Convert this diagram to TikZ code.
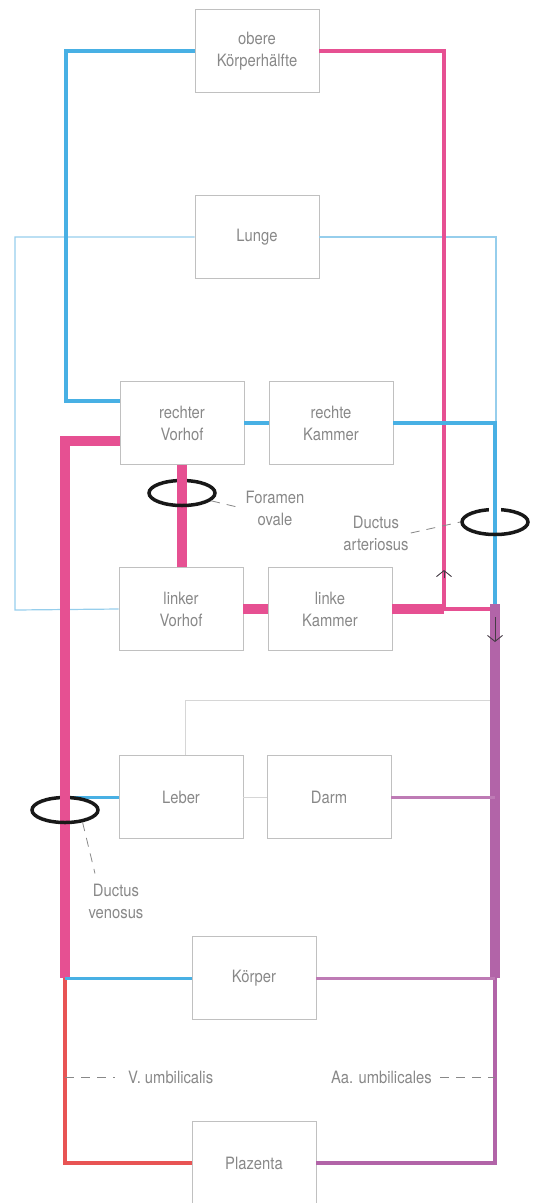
\documentclass[tikz,border=0pt]{standalone}
\usepackage{fontspec}
\setmainfont{TeX Gyre Heros}[FakeStretch=0.87]
\usetikzlibrary{positioning,calc,arrows.meta,shapes.geometric}
\definecolor{vblau}{RGB}{72,176,228}
\definecolor{lblau}{RGB}{150,206,236}
\definecolor{rosa}{RGB}{230,80,146}
\definecolor{lila}{RGB}{178,100,168}
\definecolor{rot}{RGB}{232,84,84}
\definecolor{rahmen}{RGB}{192,192,192}
\definecolor{schrift}{RGB}{136,136,136}
\definecolor{hell}{RGB}{214,214,214}
\definecolor{ringcol}{RGB}{24,24,24}
\definecolor{pfeilcol}{RGB}{70,60,70}
\tikzset{organ/.style={draw=rahmen,line width=0.7pt,minimum width=124pt,minimum height=83pt,inner sep=0pt,align=center,text=schrift,font=\fontsize{17}{22}\selectfont}  }
\tikzset{lbl/.style={text=schrift,align=center,inner sep=0pt,font=\fontsize{17}{22}\selectfont}  }
\tikzset{vene/.style={draw=vblau,line width=4pt},venethin/.style={draw=vblau,line width=3pt},lunv/.style={draw=lblau,line width=1.2pt}}
\tikzset{arterie/.style={draw=rosa,line width=4.5pt},mischbig/.style={draw=rosa,line width=10pt}}
\tikzset{lilabig/.style={draw=lila,line width=10pt},lilamid/.style={draw=lila,line width=4.5pt},lilathin/.style={draw=lila!85,line width=3pt}}
\tikzset{nabelv/.style={draw=rot,line width=4.5pt},grau/.style={draw=hell,line width=0.8pt}}
\tikzset{ring/.style={draw=ringcol,line width=3.5pt,ellipse,minimum width=66pt,minimum height=25pt,inner sep=0pt}  }
\tikzset{leader/.style={draw=schrift,line width=0.8pt,dash pattern=on 9pt off 7pt}  }
\tikzset{flow/.style={draw=pfeilcol,line width=0.9pt,-{Straight Barb[length=6pt,width=15pt,line width=0.9pt]}}  }

\begin{document}
\begin{tikzpicture}[x=1pt,y=-1pt]
	\useasboundingbox (0,0) rectangle (533,1203);
	% Organe
	\node[organ] (ok) at (257,51) {obere\\Körperhälfte};
	\node[organ] (lunge) at (257,237) {Lunge};
	\node[organ] (rv) at (182,423) {rechter\\Vorhof};
	\node[organ] (rk) at (331,423) {rechte\\Kammer};
	\node[organ] (lv) at (181,609) {linker\\Vorhof};
	\node[organ] (lk) at (330,609) {linke\\Kammer};
	\node[organ] (leber) at (181,797) {Leber};
	\node[organ] (darm) at (329,797) {Darm};
	\node[organ] (koerper) at (254,978) {Körper};
	\node[organ] (plaz) at (254,1163) {Plazenta};

	\coordinate (kv) at (66,401);
	\coordinate (kl) at (65,978);
	\coordinate (kr) at (495,978);
	\coordinate (dap) at (444,609);
	\coordinate (dak) at (495,609);
	\coordinate (ll) at (15,610);
	\coordinate (lr) at (496,423);
	\coordinate (lg) at (490,700);

	% Lunge
	\draw[lunv] (lunge.west) -| (ll) -- (lv.west);
	\draw[lunv] (lunge.east) -| (lr);
	\draw[grau] ([xshift=4pt]leber.north) |- (lg);
	\draw[grau] (leber.east) -- (darm.west);

	\draw[arterie] (ok.east) -| (dap);
	\draw[vene] (ok.west) -| (kv) -- (kv-|rv.west);
	\draw[mischbig] ([yshift=-18pt]rv.west) -| (kl);
	\draw[mischbig] (rv.south) -- (rv.south|-lv.north);
	\draw[mischbig] (lv.east) -- (lk.west);
	\draw[mischbig] (lk.east) -- (dap);
	\draw[arterie] (dap) -- (dak);
	\draw[vene] (rv.east) -- (rk.west);
	\draw[vene] (rk.east) -| (dak);
	\draw[lilabig] ([yshift=5pt]dak) -- (kr);
	\draw[lilamid] (kr) |- (plaz.east);
	\draw[nabelv] (kl) |- (plaz.west);
	\draw[venethin] (leber.west) -- (leber.west-|kl);
	\draw[venethin] (koerper.west) -- (kl);
	\draw[lilathin] (darm.east) -- (darm.east-|kr);
	\draw[lilathin] (koerper.east) -- (kr);

	% Shunts
	\node[ring] (rfo) at (182,493) {};
	\node[ring] (rda) at (495,522) {};
	\node[ring] (rdv) at (65,810) {};
	\draw[mischbig] ([yshift=7pt]rfo.north) -- ([yshift=-5pt]rfo.north);
	\draw[mischbig] ([yshift=7pt]rdv.north) -- ([yshift=-5pt]rdv.north);
	\draw[white,line width=12pt] ([yshift=4pt]rda.north) -- ([yshift=-4pt]rda.north);
	\draw[vene] ([yshift=7pt]rda.north) -- ([yshift=-5pt]rda.north);

	\draw[flow] (444,578) -- (444,570);
	\draw[flow] (495,617) -- (495,642);

	% Beschriftung
	\node[lbl] (fo) at (275,508) {Foramen\\ovale};
	\node[lbl] (da) at (376,533) {Ductus\\arteriosus};
	\node[lbl] (dv) at (116,901) {Ductus\\venosus};
	\node[lbl,anchor=west] (vu) at (128,1077) {V. umbilicalis};
	\node[lbl,anchor=east] (au) at (432,1077) {Aa. umbilicales};
	\draw[leader] (rfo.-15) -- ([xshift=-4pt]fo.west);
	\draw[leader] ([xshift=2pt]da.east) -- (rda.west);
	\draw[leader] (rdv.-35) -- ([xshift=-21pt,yshift=10pt]dv.north);
	\draw[leader] (vu.west-|kl) -- ([xshift=-13pt]vu.west);
	\draw[leader] ([xshift=8pt]au.east) -- (au.east-|kr);
\end{tikzpicture}
\end{document}
